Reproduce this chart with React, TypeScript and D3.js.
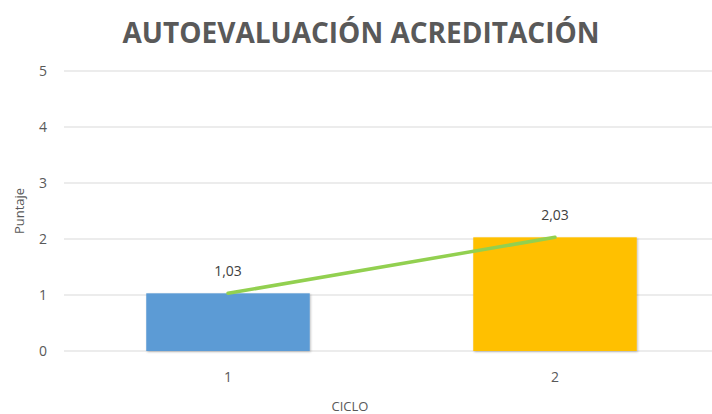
import React, { useEffect, useRef } from "react";
import * as d3 from "d3";

// chart values
const ciclos = ["1", "2"];
const puntajes = [1.03, 2.03];
const barColors = ["#5B9BD5", "#FFC000"];
const yTicks = [0, 1, 2, 3, 4, 5];
const valueLabels = ["1,03", "2,03"];

const W = 712;
const H = 414;
const FONT = "'Open Sans', 'Liberation Sans', sans-serif";

export default function App() {
  const svgRef = useRef<SVGSVGElement>(null);

  useEffect(() => {
    document.body.style.margin = "0";
    if (!svgRef.current) return;
    const svg = d3.select(svgRef.current);
    svg.selectAll("*").remove();

    const x = d3
      .scaleBand<string>()
      .domain(ciclos)
      .range([64.5, 718.5])
      .paddingInner(0.5)
      .paddingOuter(0.25);

    const y = d3.scaleLinear().domain([0, 5]).range([351, 71]);

    // shadow for bars
    const defs = svg.append("defs");
    defs
      .append("filter")
      .attr("id", "barShadow")
      .attr("x", "-10%")
      .attr("y", "-10%")
      .attr("width", "120%")
      .attr("height", "120%")
      .append("feDropShadow")
      .attr("dx", 1)
      .attr("dy", 1)
      .attr("stdDeviation", 1.2)
      .attr("flood-color", "#000")
      .attr("flood-opacity", 0.25);

    // title
    svg
      .append("text")
      .attr("x", 361)
      .attr("y", 43)
      .attr("text-anchor", "middle")
      .attr("font-family", FONT)
      .attr("font-weight", "bold")
      .attr("font-size", 28)
      .attr("fill", "#595959")
      .text("AUTOEVALUACIÓN ACREDITACIÓN");

    // gridlines
    svg
      .append("g")
      .selectAll("line")
      .data(yTicks)
      .join("line")
      .attr("x1", 64)
      .attr("x2", W)
      .attr("y1", (d) => y(d))
      .attr("y2", (d) => y(d))
      .attr("stroke", "#d9d9d9")
      .attr("stroke-width", 1);

    // y tick labels
    svg
      .append("g")
      .selectAll("text")
      .data(yTicks)
      .join("text")
      .attr("x", 47)
      .attr("y", (d) => y(d) + 5)
      .attr("text-anchor", "end")
      .attr("font-family", FONT)
      .attr("font-size", 14)
      .attr("fill", "#595959")
      .text((d) => String(d));

    // y axis title
    svg
      .append("text")
      .attr("transform", `translate(24,${y(2.5)}) rotate(-90)`)
      .attr("text-anchor", "middle")
      .attr("font-family", FONT)
      .attr("font-size", 13)
      .attr("fill", "#595959")
      .text("Puntaje");

    // bars
    svg
      .append("g")
      .selectAll("rect")
      .data(puntajes)
      .join("rect")
      .attr("x", (_, i) => x(ciclos[i])!)
      .attr("width", x.bandwidth())
      .attr("y", (d) => y(d))
      .attr("height", (d) => y(0) - y(d))
      .attr("fill", (_, i) => barColors[i])
      .attr("filter", "url(#barShadow)");

    // trend line
    const line = d3
      .line<number>()
      .x((_, i) => x(ciclos[i])! + x.bandwidth() / 2)
      .y((d) => y(d));

    svg
      .append("path")
      .datum(puntajes)
      .attr("d", line)
      .attr("fill", "none")
      .attr("stroke", "#92D050")
      .attr("stroke-width", 3.5)
      .attr("stroke-linecap", "round");

    // value labels
    svg
      .append("g")
      .selectAll("text")
      .data(puntajes)
      .join("text")
      .attr("x", (_, i) => x(ciclos[i])! + x.bandwidth() / 2)
      .attr("y", (d) => y(d) - 17)
      .attr("text-anchor", "middle")
      .attr("font-family", FONT)
      .attr("font-size", 14)
      .attr("fill", "#404040")
      .text((_, i) => valueLabels[i]);

    // x tick labels
    svg
      .append("g")
      .selectAll("text")
      .data(ciclos)
      .join("text")
      .attr("x", (d) => x(d)! + x.bandwidth() / 2)
      .attr("y", 382)
      .attr("text-anchor", "middle")
      .attr("font-family", FONT)
      .attr("font-size", 14)
      .attr("fill", "#595959")
      .text((d) => d);

    // x axis title
    svg
      .append("text")
      .attr("x", 350)
      .attr("y", 411)
      .attr("text-anchor", "middle")
      .attr("font-family", FONT)
      .attr("font-size", 13)
      .attr("fill", "#595959")
      .text("CICLO");
  }, []);

  return <svg ref={svgRef} width={W} height={H} style={{ display: "block" }} />;
}
